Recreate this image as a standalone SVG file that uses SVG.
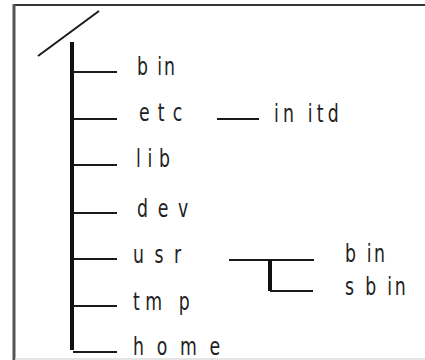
<svg xmlns="http://www.w3.org/2000/svg" width="425" height="360" viewBox="0 0 425 360">
<style>
.t{font-family:"DejaVu Sans Condensed","DejaVu Sans","Liberation Sans",sans-serif;font-size:24px;fill:#222;font-stretch:condensed}
.c{stroke:#1a1a1a;stroke-width:2;fill:none}
.k{stroke:#111;stroke-width:4;fill:none}
</style>
<rect width="425" height="360" fill="#fff"/>
<g id="frame">
<line x1="13" y1="5" x2="425" y2="5" stroke="#333" stroke-width="2"/>
<line x1="14" y1="4" x2="14" y2="360" stroke="#555" stroke-width="3"/>
<line x1="15" y1="359" x2="425" y2="359" stroke="#ddd" stroke-width="1.5"/>
</g>
<g id="connectors">
<line class="c" x1="38" y1="56" x2="99" y2="11" stroke-width="3"/>
<line class="k" x1="72" y1="42" x2="72" y2="350"/>
<line class="c" x1="73" y1="72" x2="117" y2="72"/>
<line class="c" x1="73" y1="119" x2="117" y2="119"/>
<line class="c" x1="73" y1="165" x2="117" y2="165"/>
<line class="c" x1="73" y1="213" x2="117" y2="213"/>
<line class="c" x1="73" y1="259" x2="117" y2="259"/>
<line class="c" x1="73" y1="306" x2="117" y2="306"/>
<line class="c" x1="73" y1="352" x2="117" y2="352"/>
<line class="c" x1="217" y1="119" x2="259" y2="119"/>
<line class="c" x1="229" y1="260" x2="314" y2="260"/>
<line class="k" x1="270" y1="260" x2="270" y2="291"/>
<line class="c" x1="270" y1="291" x2="313" y2="291"/>
</g>
<g id="bin" transform="translate(137,75) scale(0.8,1)"><text class="t" textLength="47.5" lengthAdjust="spacing">b in</text></g>
<g id="etc" transform="translate(139,121) scale(0.8,1)"><text class="t" textLength="54" lengthAdjust="spacing">e t c</text></g>
<g id="lib" transform="translate(136,167) scale(0.8,1)"><text class="t" textLength="42.5" lengthAdjust="spacing">lib</text></g>
<g id="dev" transform="translate(137,217) scale(0.8,1)"><text class="t" textLength="64" lengthAdjust="spacing">d e v</text></g>
<g id="usr" transform="translate(133,263) scale(0.8,1)"><text class="t" textLength="60" lengthAdjust="spacing">u s r</text></g>
<g id="tmp" transform="translate(133,310) scale(0.8,1)"><text class="t" textLength="71" lengthAdjust="spacing">tm p</text></g>
<g id="home" transform="translate(133,355) scale(0.8,1)"><text class="t" textLength="109" lengthAdjust="spacing">h o m e</text></g>
<g id="initd" transform="translate(274,122) scale(0.8,1)"><text class="t" textLength="81" lengthAdjust="spacing">in itd</text></g>
<g id="usr-bin" transform="translate(345,262) scale(0.8,1)"><text class="t" textLength="50" lengthAdjust="spacing">b in</text></g>
<g id="usr-sbin" transform="translate(345,295) scale(0.8,1)"><text class="t" textLength="76" lengthAdjust="spacing">s b in</text></g>
</svg>
